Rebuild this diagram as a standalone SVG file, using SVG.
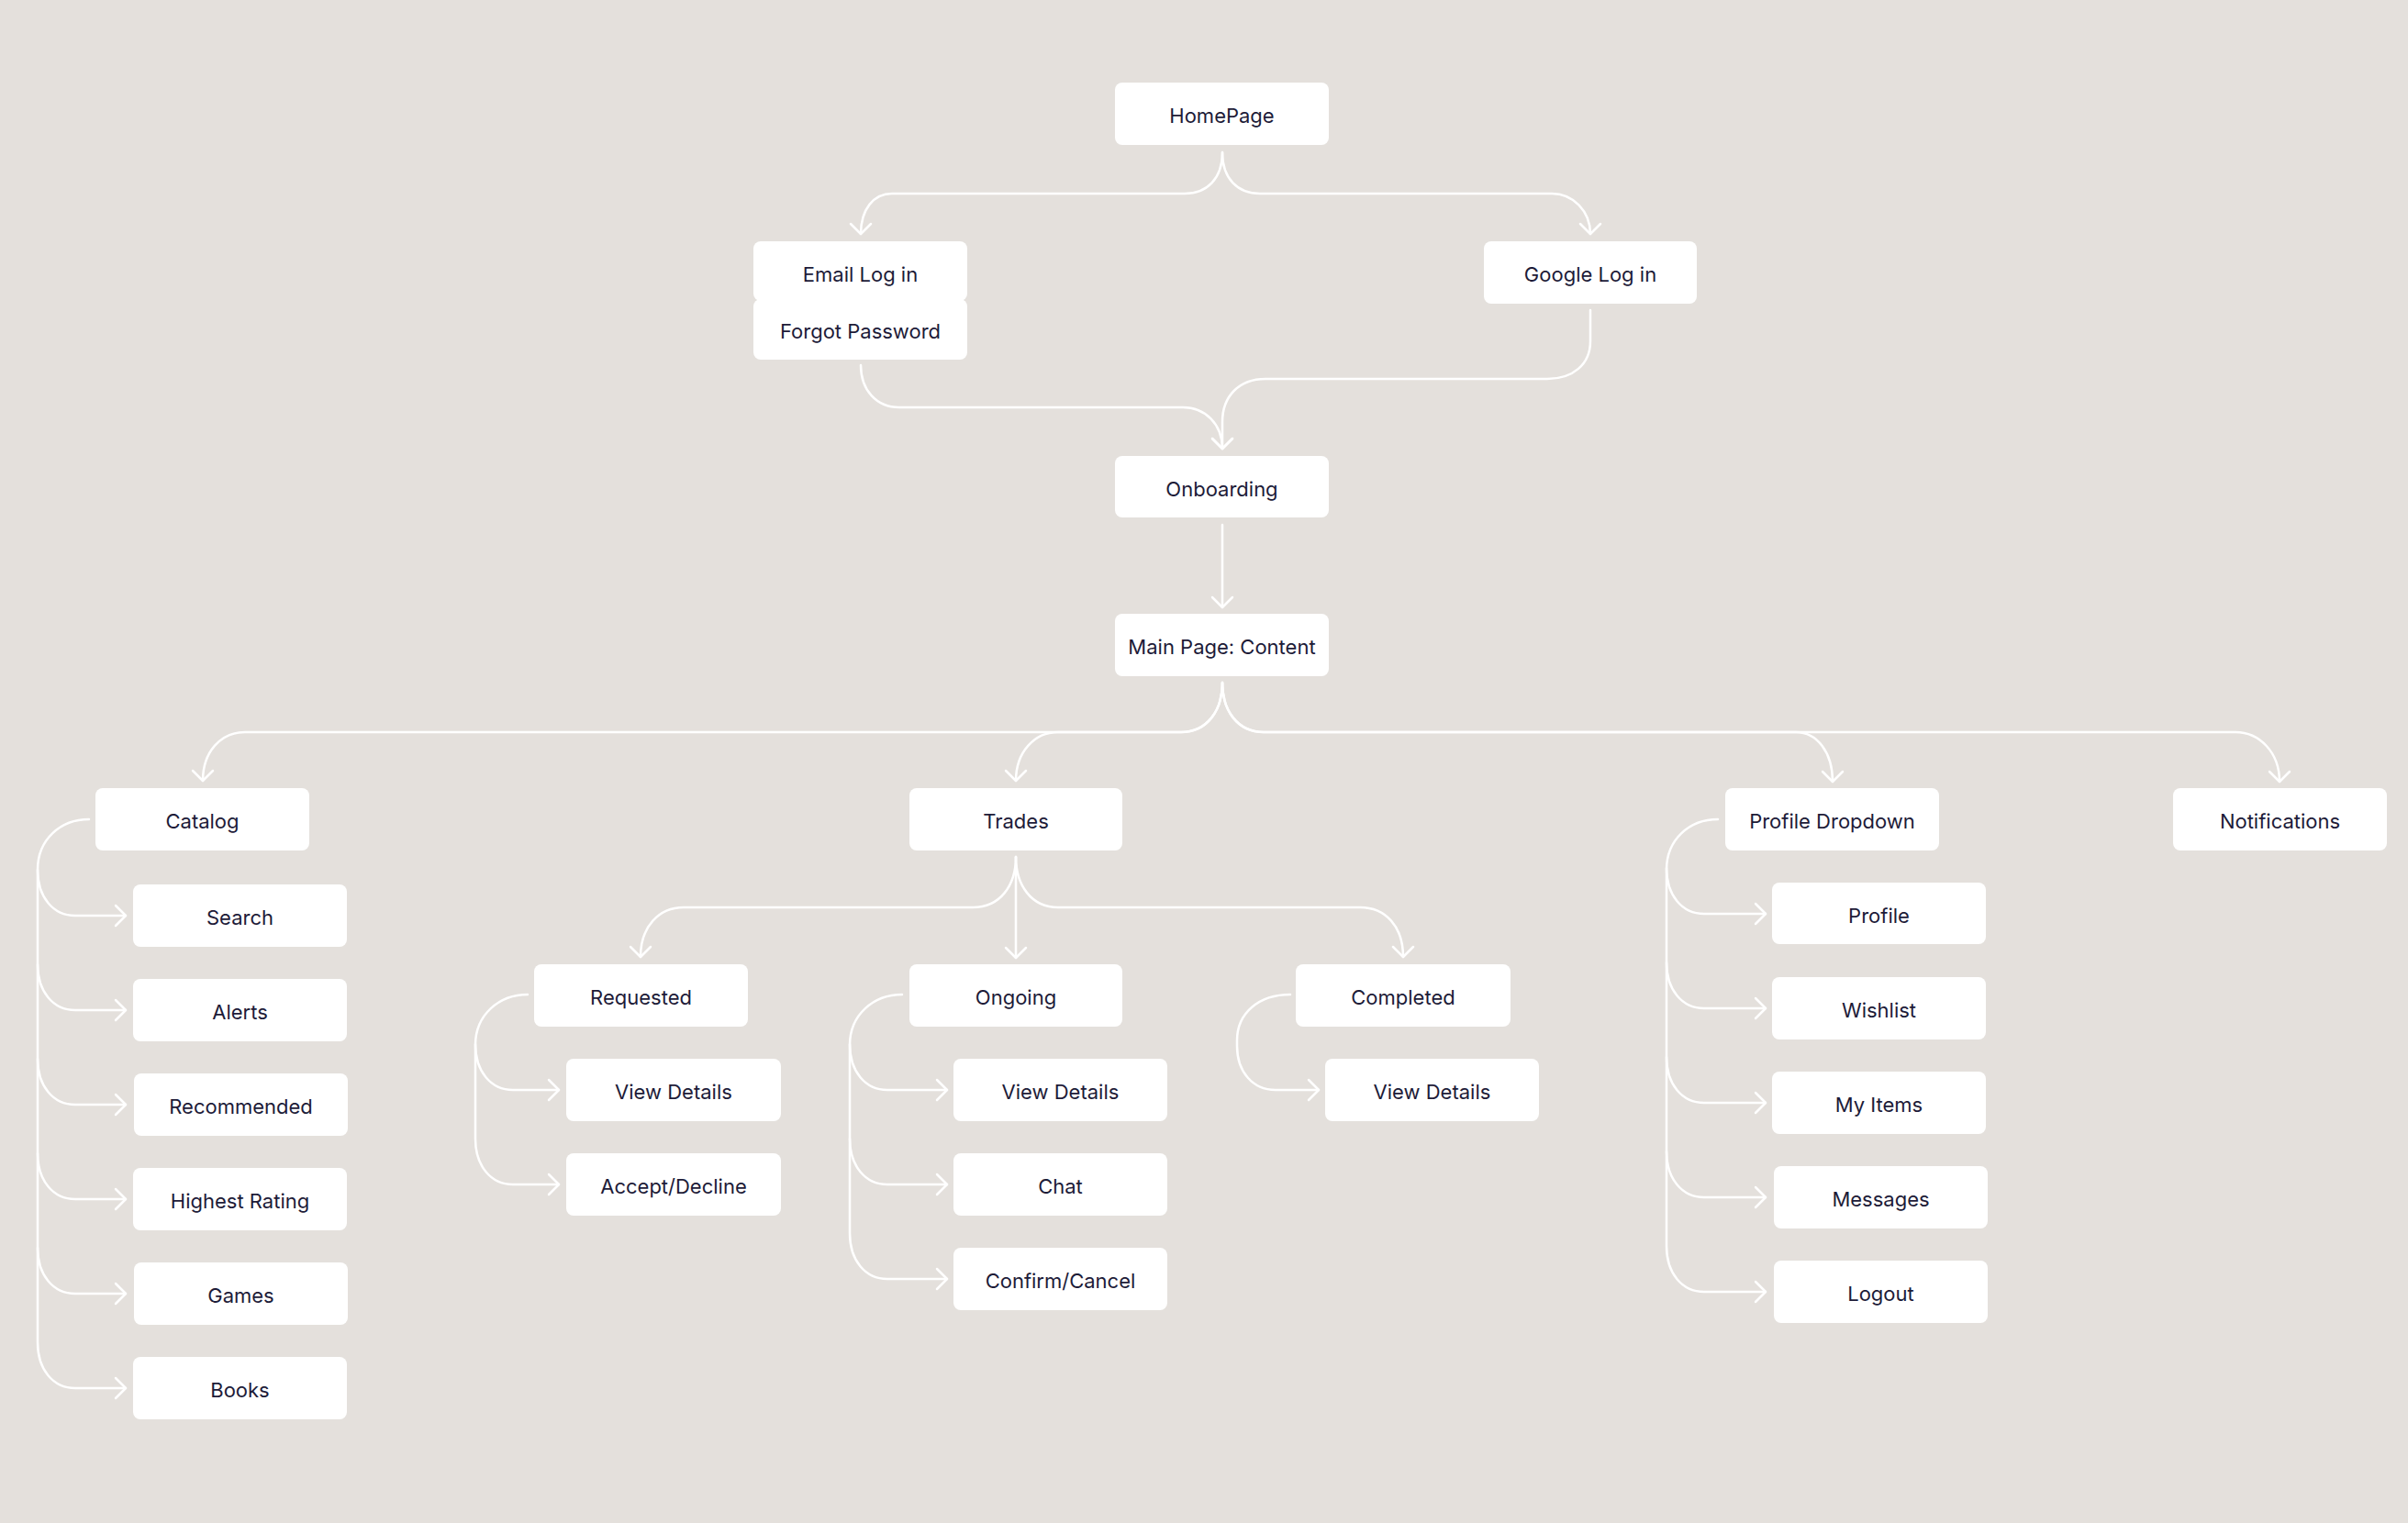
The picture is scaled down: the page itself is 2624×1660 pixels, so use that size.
<svg xmlns="http://www.w3.org/2000/svg" width="2624" height="1660" viewBox="0 0 2624 1660">
<style>
.n rect{fill:#ffffff}
.n text{font-family:Inter,Lato,"Liberation Sans",sans-serif;font-size:22px;fill:#1d1b38;text-anchor:middle}
.c path{fill:none;stroke:#ffffff;stroke-width:2.5;stroke-linecap:round;stroke-linejoin:round}
.c .a{marker-end:url(#ah)}
</style>
<defs>
<marker id="ah" markerUnits="userSpaceOnUse" markerWidth="30" markerHeight="30" viewBox="-15 -15 30 30" refX="0" refY="0" orient="auto" overflow="visible">
<path d="M-11 -11 L0 0 L-11 11" fill="none" stroke="#ffffff" stroke-width="2.5" stroke-linecap="round" stroke-linejoin="round"/>
</marker>
</defs>
<rect x="0" y="0" width="2624" height="1660" fill="#e4e0dc"/>

<g id="connectors" class="c">
<path class="a" d="M1332 166 C1332 195 1315 211 1291 211 H972 C952 211 938 228 938 255"/>
<path class="a" d="M1332 166 C1332 195 1349 211 1373 211 H1691 C1714 211 1733 230 1733 255"/>
<path class="a" d="M938 398 C938 425 955 444 980 444 H1289 C1313 444 1332 462 1332 489"/>
<path class="a" d="M1733 338 V372 C1733 397 1714 413 1686 413 H1379 C1350 413 1332 432 1332 460 V489"/>
<path class="a" d="M1332 572 V662"/>
<path class="a" d="M1332 744 C1332 775 1315 798 1287 798 H267 C240 798 221 820 221 851"/>
<path class="a" d="M1332 744 C1332 775 1315 798 1287 798 H1153 C1127 798 1107 820 1107 851"/>
<path class="a" d="M1332 744 C1332 775 1349 798 1377 798 H1957 C1980 798 1997 820 1997 852"/>
<path class="a" d="M1332 744 C1332 775 1349 798 1377 798 H2436 C2462 798 2484 820 2484 852"/>
<path class="a" d="M1107 934 C1107 965 1090 989 1060 989 H745 C718 989 698 1010 698 1043"/>
<path class="a" d="M1107 934 V1044"/>
<path class="a" d="M1107 934 C1107 965 1124 989 1153 989 H1482 C1510 989 1529 1010 1529 1043"/>
<!-- Catalog tree -->
<path class="a" d="M97 893 C66 893 41 915 41 948 V1463 C41 1493 58 1513 82 1513 H137"/>
<path class="a" d="M41 948 C41 978 58 998 82 998 H137"/>
<path class="a" d="M41 1051 C41 1081 58 1101 82 1101 H137"/>
<path class="a" d="M41 1154 C41 1184 58 1204 82 1204 H137"/>
<path class="a" d="M41 1257 C41 1287 58 1307 82 1307 H137"/>
<path class="a" d="M41 1360 C41 1390 58 1410 82 1410 H137"/>
<!-- Requested tree -->
<path class="a" d="M575 1084 C544 1084 518 1106 518 1139 V1241 C518 1271 535 1291 559 1291 H609"/>
<path class="a" d="M518 1138 C518 1168 535 1188 559 1188 H609"/>
<!-- Ongoing tree -->
<path class="a" d="M983 1084 C952 1084 926 1106 926 1139 V1344 C926 1374 943 1394 967 1394 H1032"/>
<path class="a" d="M926 1138 C926 1168 943 1188 967 1188 H1032"/>
<path class="a" d="M926 1241 C926 1271 943 1291 967 1291 H1032"/>
<!-- Completed tree -->
<path class="a" d="M1406 1084 C1372 1084 1348 1104 1348 1134 V1140 C1348 1168 1365 1188 1390 1188 H1437"/>
<!-- Profile tree -->
<path class="a" d="M1872 893 C1841 893 1816 915 1816 948 V1358 C1816 1388 1833 1408 1857 1408 H1924"/>
<path class="a" d="M1816 946 C1816 976 1833 996 1857 996 H1924"/>
<path class="a" d="M1816 1049 C1816 1079 1833 1099 1857 1099 H1924"/>
<path class="a" d="M1816 1152 C1816 1182 1833 1202 1857 1202 H1924"/>
<path class="a" d="M1816 1255 C1816 1285 1833 1305 1857 1305 H1924"/>
</g>

<g id="homepage" class="n"><rect x="1215" y="90" width="233" height="68" rx="8"/><text x="1331.5" y="134">HomePage</text></g>
<g id="email-login" class="n"><rect x="821" y="263" width="233" height="65" rx="8"/><text x="937.5" y="307">Email Log in</text></g>
<g id="forgot-password" class="n"><rect x="821" y="326" width="233" height="66" rx="8"/><text x="937.5" y="369">Forgot Password</text></g>
<g id="google-login" class="n"><rect x="1617" y="263" width="232" height="68" rx="8"/><text x="1733" y="307">Google Log in</text></g>
<g id="onboarding" class="n"><rect x="1215" y="497" width="233" height="67" rx="8"/><text x="1331.5" y="541">Onboarding</text></g>
<g id="main-page" class="n"><rect x="1215" y="669" width="233" height="68" rx="8"/><text x="1331.5" y="713">Main Page: Content</text></g>

<g id="catalog" class="n"><rect x="104" y="859" width="233" height="68" rx="8"/><text x="220.5" y="903">Catalog</text></g>
<g id="trades" class="n"><rect x="991" y="859" width="232" height="68" rx="8"/><text x="1107" y="903">Trades</text></g>
<g id="profile-dropdown" class="n"><rect x="1880" y="859" width="233" height="68" rx="8"/><text x="1996.5" y="903">Profile Dropdown</text></g>
<g id="notifications" class="n"><rect x="2368" y="859" width="233" height="68" rx="8"/><text x="2484.5" y="903">Notifications</text></g>

<g id="search" class="n"><rect x="145" y="964" width="233" height="68" rx="8"/><text x="261.5" y="1008">Search</text></g>
<g id="alerts" class="n"><rect x="145" y="1067" width="233" height="68" rx="8"/><text x="261.5" y="1111">Alerts</text></g>
<g id="recommended" class="n"><rect x="146" y="1170" width="233" height="68" rx="8"/><text x="262.5" y="1214">Recommended</text></g>
<g id="highest-rating" class="n"><rect x="145" y="1273" width="233" height="68" rx="8"/><text x="261.5" y="1317">Highest Rating</text></g>
<g id="games" class="n"><rect x="146" y="1376" width="233" height="68" rx="8"/><text x="262.5" y="1420">Games</text></g>
<g id="books" class="n"><rect x="145" y="1479" width="233" height="68" rx="8"/><text x="261.5" y="1523">Books</text></g>

<g id="requested" class="n"><rect x="582" y="1051" width="233" height="68" rx="8"/><text x="698.5" y="1095">Requested</text></g>
<g id="requested-view-details" class="n"><rect x="617" y="1154" width="234" height="68" rx="8"/><text x="734" y="1198">View Details</text></g>
<g id="accept-decline" class="n"><rect x="617" y="1257" width="234" height="68" rx="8"/><text x="734" y="1301">Accept/Decline</text></g>

<g id="ongoing" class="n"><rect x="991" y="1051" width="232" height="68" rx="8"/><text x="1107" y="1095">Ongoing</text></g>
<g id="ongoing-view-details" class="n"><rect x="1039" y="1154" width="233" height="68" rx="8"/><text x="1155.5" y="1198">View Details</text></g>
<g id="chat" class="n"><rect x="1039" y="1257" width="233" height="68" rx="8"/><text x="1155.5" y="1301">Chat</text></g>
<g id="confirm-cancel" class="n"><rect x="1039" y="1360" width="233" height="68" rx="8"/><text x="1155.5" y="1404">Confirm/Cancel</text></g>

<g id="completed" class="n"><rect x="1412" y="1051" width="234" height="68" rx="8"/><text x="1529" y="1095">Completed</text></g>
<g id="completed-view-details" class="n"><rect x="1444" y="1154" width="233" height="68" rx="8"/><text x="1560.5" y="1198">View Details</text></g>

<g id="profile" class="n"><rect x="1931" y="962" width="233" height="67" rx="8"/><text x="2047.5" y="1006">Profile</text></g>
<g id="wishlist" class="n"><rect x="1931" y="1065" width="233" height="68" rx="8"/><text x="2047.5" y="1109">Wishlist</text></g>
<g id="my-items" class="n"><rect x="1931" y="1168" width="233" height="68" rx="8"/><text x="2047.5" y="1212">My Items</text></g>
<g id="messages" class="n"><rect x="1933" y="1271" width="233" height="68" rx="8"/><text x="2049.5" y="1315">Messages</text></g>
<g id="logout" class="n"><rect x="1933" y="1374" width="233" height="68" rx="8"/><text x="2049.5" y="1418">Logout</text></g>
</svg>
